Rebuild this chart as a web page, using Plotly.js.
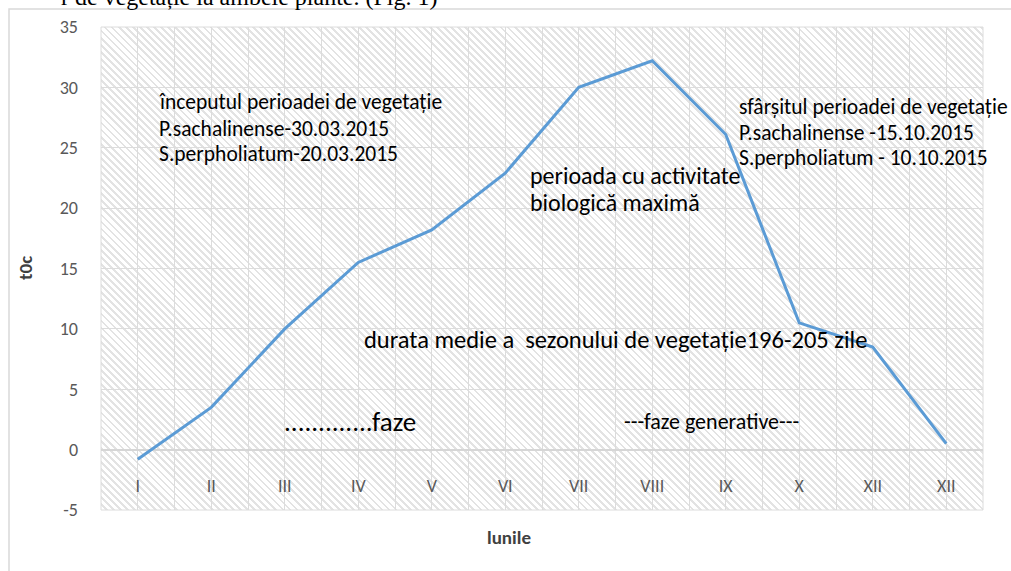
<!DOCTYPE html>
<html>
<head>
<meta charset="utf-8">
<script src="https://cdn.plot.ly/plotly-3.0.1.min.js"></script>
<style>
  html, body { margin: 0; padding: 0; background: #ffffff; }
  #wrap { position: relative; width: 1011px; height: 571px; overflow: hidden; }
  #hatch {
    position: absolute; left: 101px; top: 27px; width: 882px; height: 483px;
    background: repeating-linear-gradient(45deg, #ffffff 0px, #ffffff 3px, #e3e3e3 3px, #e3e3e3 5px);
  }
  #chart { position: absolute; left: 0; top: 0; width: 1011px; height: 571px; }
</style>
</head>
<body>
<div id="wrap">
  <div id="hatch"></div>
  <div id="chart"></div>
</div>
<script>
// Data
const months = ["I", "II", "III", "IV", "V", "VI", "VII", "VIII", "IX", "X", "XII", "XII"];
const temperature = [-0.8, 3.5, 10.0, 15.5, 18.2, 22.9, 30.0, 32.2, 26.1, 10.5, 8.5, 0.5];
const yTicks = [-5, 0, 5, 10, 15, 20, 25, 30, 35];

const monthIndex = months.map((m, i) => i);

const FONT = "Carlito, Lato, 'Liberation Sans', sans-serif";
const GRID = "#dcdcdc";

const trace = {
  type: "scatter",
  mode: "lines",
  x: monthIndex,
  y: temperature,
  line: { color: "#5B9BD5", width: 3 },
  hoverinfo: "skip",
  showlegend: false
};

function note(text, x, y, size) {
  return { text: text, xref: "x", yref: "y", x: x, y: y, xanchor: "left", yanchor: "middle",
           align: "left", showarrow: false, font: { family: FONT, size: size, color: "#000000" } };
}

const layout = {
  width: 1011,
  height: 571,
  margin: { l: 101, r: 28, t: 27, b: 61 },
  paper_bgcolor: "rgba(0,0,0,0)",
  plot_bgcolor: "rgba(0,0,0,0)",
  showlegend: false,
  xaxis: {
    range: [-0.5, 11.5],
    tickmode: "array",
    tickvals: monthIndex,
    ticktext: months,
    showgrid: true,
    gridcolor: GRID,
    gridwidth: 1,
    minor: { showgrid: true, tickmode: "linear", tick0: 0.5, dtick: 1, gridcolor: GRID, gridwidth: 1 },
    zeroline: false,
    showline: false,
    ticks: "",
    anchor: "free",
    position: 0.076,
    tickfont: { family: FONT, size: 18, color: "#595959" },
    fixedrange: true
  },
  yaxis: {
    range: [-5, 35],
    tickmode: "array",
    tickvals: yTicks,
    ticktext: yTicks.map(String),
    showgrid: true,
    gridcolor: GRID,
    gridwidth: 1,
    zeroline: true,
    zerolinecolor: "#d6d6d6",
    zerolinewidth: 2,
    showline: false,
    ticks: "",
    ticklabelstandoff: 22,
    tickfont: { family: FONT, size: 18, color: "#595959" },
    fixedrange: true
  },
  shapes: [
    { type: "rect", xref: "paper", yref: "paper", x0: 0, x1: 1, y0: 0, y1: 1,
      line: { color: GRID, width: 1 }, fillcolor: "rgba(0,0,0,0)", layer: "below" },
    { type: "rect", xref: "paper", yref: "paper", x0: -0.1043, x1: 1.06, y0: -0.2, y1: 1.0373,
      line: { color: "#d9d9d9", width: 1.5 }, fillcolor: "rgba(0,0,0,0)", layer: "below" }
  ],
  annotations: [
    { text: "r de vegetație la ambele plante. (Fig. 1)", xref: "paper", yref: "paper",
      x: 0.384, y: 1.062, xanchor: "right", yanchor: "middle", showarrow: false,
      font: { family: "'Liberation Serif', 'Times New Roman', serif", size: 24, color: "#000000" } },
    note("începutul perioadei de vegetație", 0.262, 28.79, 21.5),
    note("P.sachalinense-30.03.2015", 0.262, 26.55, 21.5),
    note("S.perpholiatum-20.03.2015", 0.262, 24.47, 21.5),
    note("sfârșitul perioadei de vegetație", 8.153, 28.37, 21.5),
    note("P.sachalinense -15.10.2015", 8.153, 26.21, 21.5),
    note("S.perpholiatum - 10.10.2015", 8.153, 24.15, 21.5),
    note("perioada cu activitate", 5.31, 22.73, 24),
    note("biologică maximă", 5.31, 20.50, 24),
    note("durata medie a  sezonului de vegetație196-205 zile", 3.051, 9.08, 24.5),
    note(".............faze", 1.963, 2.29, 27),
    note("---faze generative---", 6.588, 2.29, 22),
    { text: "<b>lunile</b>", xref: "paper", yref: "paper", x: (509 - 101) / 882, y: (510 - 537) / 483,
      xanchor: "center", yanchor: "middle", showarrow: false,
      font: { family: FONT, size: 19, color: "#404040" } },
    { text: "<b>t0c</b>", xref: "paper", yref: "paper", x: (25 - 101) / 882, y: (510 - 268) / 483,
      xanchor: "center", yanchor: "middle", textangle: -90, showarrow: false,
      font: { family: FONT, size: 19, color: "#404040" } }
  ]
};

Plotly.newPlot("chart", [trace], layout, { displayModeBar: false, staticPlot: true });
</script>
</body>
</html>
